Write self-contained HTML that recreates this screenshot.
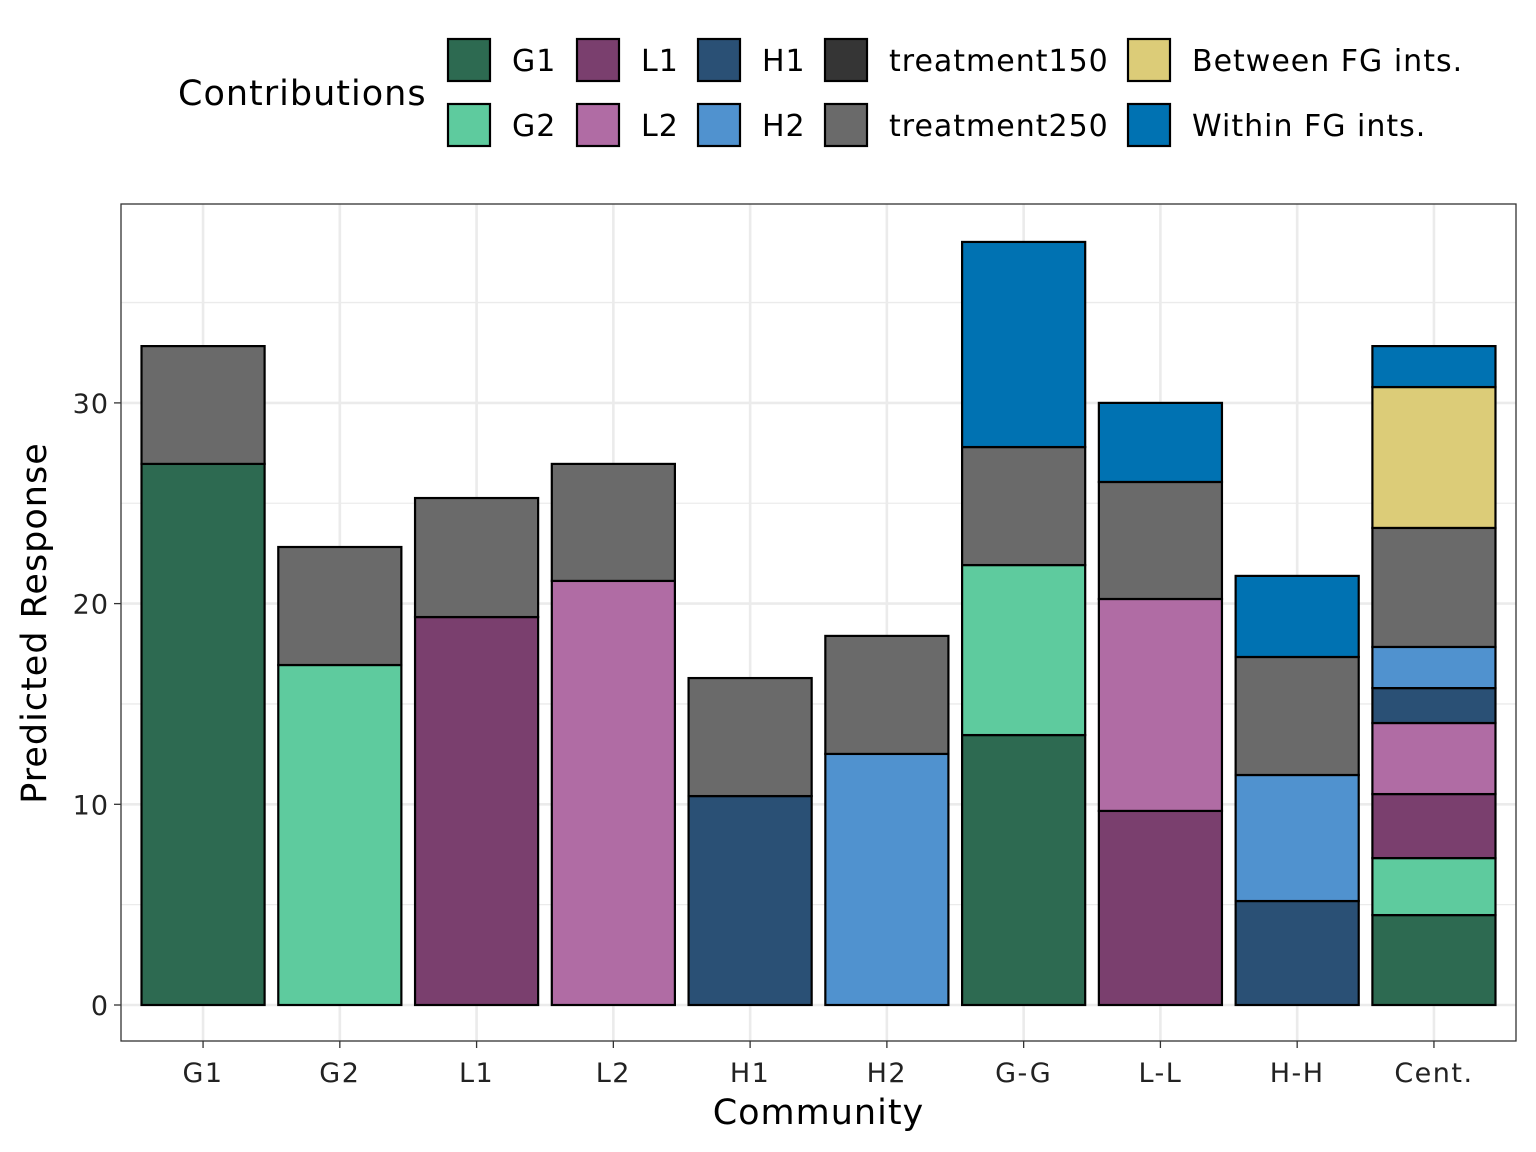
<!DOCTYPE html>
<html><head><meta charset="utf-8"><style>
html,body{margin:0;padding:0;background:#fff;}
svg{display:block;font-family:"DejaVu Sans","Liberation Sans",sans-serif;}
</style></head><body>
<svg id="chart" width="1536" height="1152" viewBox="0 0 1536 1152"></svg>
<script>
const categories = ["G1","G2","L1","L2","H1","H2","G-G","L-L","H-H","Cent."];
const seriesNames = ["G1","G2","L1","L2","H1","H2","treatment150","treatment250","Between FG ints.","Within FG ints."];
const seriesColors = ["#2d6a51","#5ecb9e","#7a3f6e","#b06ca4","#2a5075","#5092cf","#353535","#6a6a6a","#dccc78","#0072b2"];
const sG1 = [26.96,0,0,0,0,0,13.45,0,0,4.48];
const sG2 = [0,16.94,0,0,0,0,8.47,0,0,2.84];
const sL1 = [0,0,19.33,0,0,0,0,9.67,0,3.19];
const sL2 = [0,0,0,21.13,0,0,0,10.56,0,3.54];
const sH1 = [0,0,0,0,10.41,0,0,0,5.18,1.74];
const sH2 = [0,0,0,0,0,12.51,0,0,6.28,2.05];
const sT150 = [0,0,0,0,0,0,0,0,0,0];
const sT250 = [5.87,5.88,5.93,5.83,5.88,5.88,5.88,5.83,5.88,5.93];
const sBetween = [0,0,0,0,0,0,0,0,0,7.02];
const sWithin = [0,0,0,0,0,0,10.22,3.94,4.04,2.04];
const seriesValues = [sG1,sG2,sL1,sL2,sH1,sH2,sT150,sT250,sBetween,sWithin];
const yTicks = [0,10,20,30];
const yMinor = [5,15,25,35];

const NS="http://www.w3.org/2000/svg";
const svg=document.getElementById('chart');
function mk(tag,attrs,parent){const e=document.createElementNS(NS,tag);for(const k in attrs)e.setAttribute(k,attrs[k]);(parent||svg).appendChild(e);return e;}
const P={l:121,r:1516,t:204,b:1041};
const y0=1005, ppu=20.07;
const yScale=v=>y0-v*ppu;
const step=(P.r-P.l)/(categories.length+0.2);
const xScale=i=>P.l+step*(0.6+i);
const bw=step*0.9;

const grid=mk('g',{});


yMinor.forEach(v=>mk('line',{x1:P.l,x2:P.r,y1:yScale(v),y2:yScale(v),stroke:'#ebebeb','stroke-width':1.3},grid));
yTicks.forEach(v=>mk('line',{x1:P.l,x2:P.r,y1:yScale(v),y2:yScale(v),stroke:'#ebebeb','stroke-width':2.6},grid));
categories.forEach((c,i)=>mk('line',{x1:xScale(i),x2:xScale(i),y1:P.t,y2:P.b,stroke:'#ebebeb','stroke-width':2.6},grid));

const bars=mk('g',{});


categories.forEach((c,i)=>{
  let acc=0;
  seriesValues.forEach((arr,s)=>{
    const v=arr[i]; if(v<=0) return;
    const r=mk('rect',{x:xScale(i)-bw/2,y:yScale(acc+v),width:bw,height:v*ppu,fill:seriesColors[s],stroke:'#000','stroke-width':2.2},bars);
    
    
    acc+=v;
  });
});
const frame=mk('rect',{x:P.l,y:P.t,width:P.r-P.l,height:P.b-P.t,fill:'none',stroke:'#333','stroke-width':1.3});



yTicks.forEach(v=>{
  mk('line',{x1:P.l-7,x2:P.l,y1:yScale(v),y2:yScale(v),stroke:'#333','stroke-width':1.3});
  const t=mk('text',{x:P.l-12,y:yScale(v)+10,'text-anchor':'end','font-size':27,'letter-spacing':1,fill:'#222'});
  t.textContent=v;
  
  
});
categories.forEach((c,i)=>{
  mk('line',{x1:xScale(i),x2:xScale(i),y1:P.b,y2:P.b+7,stroke:'#333','stroke-width':1.3});
  const t=mk('text',{x:xScale(i),y:1082,'text-anchor':'middle','font-size':27,'letter-spacing':1.5,fill:'#222'});
  t.textContent=c;
  
  
});
const xt=mk('text',{x:(P.l+P.r)/2,y:1124,'text-anchor':'middle','font-size':35,'letter-spacing':1,fill:'#000'});
xt.textContent='Community';


const yt=mk('text',{x:0,y:0,'text-anchor':'middle','font-size':35,'letter-spacing':1,fill:'#000',transform:'translate(46,623) rotate(-90)'});
yt.textContent='Predicted Response';



const lg=mk('g',{});


const ltitle=mk('text',{x:178,y:105,'font-size':35,'letter-spacing':1,fill:'#000'},lg);
ltitle.textContent='Contributions';


const colX=[448,577,698,825,1128];
seriesNames.forEach((n,s)=>{
  const col=Math.floor(s/2), row=s%2;
  const x=colX[col], y=39+row*65;
  const r=mk('rect',{x:x,y:y,width:42,height:42,fill:seriesColors[s],stroke:'#000','stroke-width':2.2},lg);
  
  
  const t=mk('text',{x:x+64,y:y+32,'font-size':30,'letter-spacing':1,fill:'#000'},lg);
  t.textContent=n;
  
  
});
</script>
</body></html>
